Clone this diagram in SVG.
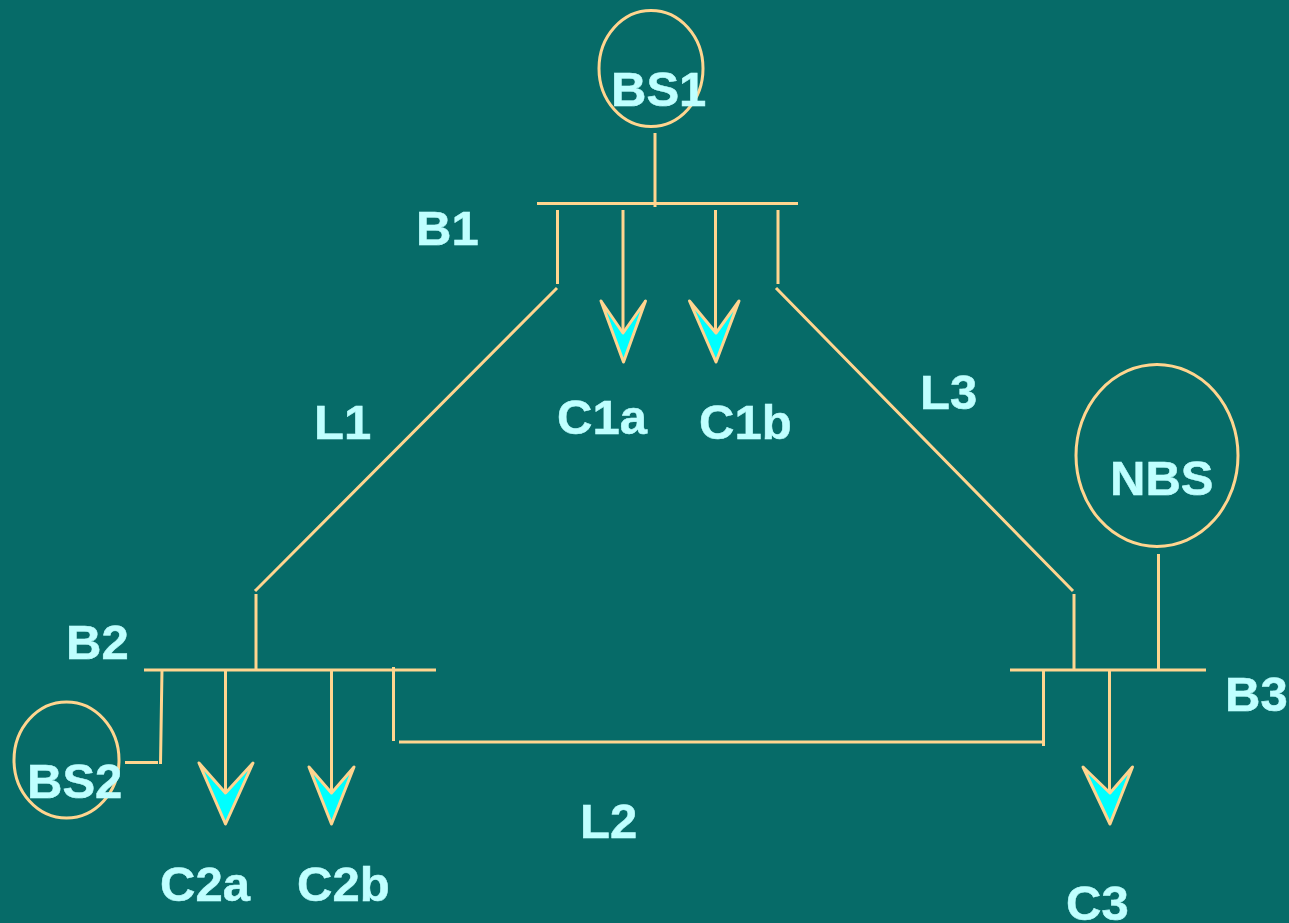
<svg xmlns="http://www.w3.org/2000/svg" width="1289" height="923" viewBox="0 0 1289 923">
<style>
.l{stroke:#ffd58f;stroke-width:3;fill:none}
.c{stroke:#ffd58f;stroke-width:3;fill:none}
.a{stroke:#ffd58f;stroke-width:3;fill:#00ffff;stroke-linejoin:round}
text{font-family:"Liberation Sans",Arial,sans-serif;font-weight:bold;font-size:49px;fill:#bfffff;stroke:#bfffff;stroke-width:.5}
</style>
<rect width="1289" height="923" fill="#066b68"/>
<g id="connectors">
<path class="l" d="M655 133V207M537 203.500H798M557.500 210V284M623 210V332M715.500 210V332M778 210V284M557 288L255 591M776 288L1073 591"/>
<path class="l" d="M256 594V669M144 670H436M162 669L160.500 764M125 762.500H158M225.500 671V793M331.500 671V793M393.500 667V741M399 742H1043M1074 594V669M1158.500 554V669M1010 670H1206M1043.500 671V746M1109.500 671V793"/>
<path class="a" d="M601 301L623 333L645.500 301L623.500 362Z"/>
<path class="a" d="M689.500 301L716 333L739 301L716 362Z"/>
<path class="a" d="M199 763L225.500 793L253 763L225.500 824Z"/>
<path class="a" d="M309 767L331.500 793L354 767L331.500 824Z"/>
<path class="a" d="M1083 767L1110 793L1132.500 767L1110 824Z"/>
</g>
<g id="BS1"><ellipse class="c" cx="651" cy="68.500" rx="52" ry="58"/><text x="611" y="106">BS1</text></g>
<g id="NBS"><ellipse class="c" cx="1157" cy="455.500" rx="81" ry="91"/><text x="1110" y="495">NBS</text></g>
<g id="BS2"><ellipse class="c" cx="66.500" cy="760" rx="52.500" ry="58"/><text x="27" y="798">BS2</text></g>
<g id="B1"><text x="416" y="245">B1</text></g>
<g id="B2"><text x="66" y="659">B2</text></g>
<g id="B3"><text x="1225" y="711">B3</text></g>
<g id="L1"><text x="314" y="439">L1</text></g>
<g id="L2"><text x="580" y="838">L2</text></g>
<g id="L3"><text x="920" y="409">L3</text></g>
<g id="C1a"><text x="557" y="434">C1a</text></g>
<g id="C1b"><text x="699" y="439">C1b</text></g>
<g id="C2a"><text x="160" y="901">C2a</text></g>
<g id="C2b"><text x="297" y="901">C2b</text></g>
<g id="C3"><text x="1066" y="920">C3</text></g>
</svg>
